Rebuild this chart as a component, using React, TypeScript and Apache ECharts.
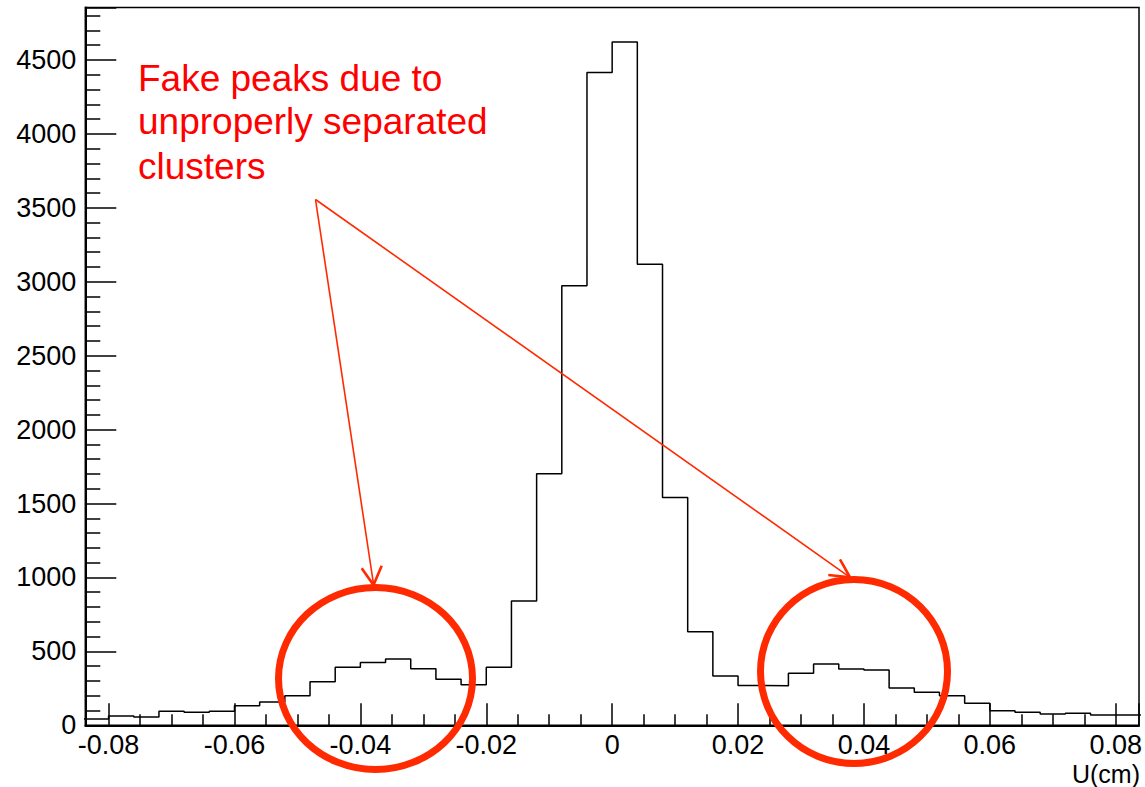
import React, { useEffect, useRef } from "react";
import * as echarts from "echarts";

// Histogram data: U (cm), bin width 0.004 starting at -0.084
const binLow = -0.084;
const binWidth = 0.004;
const counts = [
  43, 63, 56, 95, 88, 95, 133, 158, 200, 295, 392, 424, 448, 383, 311, 275,
  392, 841, 1702, 2973, 4416, 4621, 3118, 1540, 633, 333, 270, 268, 352, 415,
  381, 374, 252, 223, 200, 149, 99, 88, 76, 81, 70, 70,
];
const xMin = -0.0837;
const xMax = 0.0837;
const xInterval = 0.02;
const yMin = 0;
const yMax = 4855;
const yInterval = 500;
const xAxisTitle = "U(cm)";
const annotationLines = ["Fake peaks due to", "unproperly separated", "clusters"];

const FONT = "'Liberation Sans', Arial, Helvetica, sans-serif";
const RED_TEXT = "#ff0000";
const RED_MARK = "#ff2a00";

function buildHistPoints(): number[][] {
  const pts: number[][] = [];
  counts.forEach((c, i) => {
    const x0 = +(binLow + i * binWidth).toFixed(6);
    const x1 = +(binLow + (i + 1) * binWidth).toFixed(6);
    pts.push([x0, c], [x1, c]);
  });
  return pts;
}

function fmtX(v: number): string {
  if (Math.abs(v) < 1e-9) return "0";
  return v.toFixed(2);
}

function fmtY(v: number): string {
  return String(Math.round(v));
}

export default function App() {
  const ref = useRef<HTMLDivElement>(null);
  useEffect(() => {
    if (!ref.current) return;
    const chart = echarts.init(ref.current, null, { renderer: "svg" });
    const option: any = {
      animation: false,
      backgroundColor: "#ffffff",
      grid: {
        left: 85.3,
        right: 3.3,
        top: 7.5,
        bottom: 61.7,
        show: true,
        borderColor: "#000",
        borderWidth: 1.5,
        backgroundColor: "transparent",
      },
      xAxis: {
        type: "value",
        min: xMin,
        max: xMax,
        splitNumber: 8,
        minInterval: xInterval,
        maxInterval: xInterval,
        axisLine: { show: true, onZero: false, lineStyle: { color: "#000", width: 2 } },
        axisTick: { show: true, inside: true, length: 22, lineStyle: { color: "#000", width: 1.5 } },
        minorTick: { show: true, splitNumber: 4, length: 11, lineStyle: { color: "#000", width: 1.5 } },
        splitLine: { show: false },
        axisLabel: {
          show: true,
          margin: 7,
          color: "#000",
          fontSize: 27,
          lineHeight: 26,
          fontFamily: FONT,
          showMinLabel: false,
          showMaxLabel: false,
          formatter: (v: number) => fmtX(v),
        },
      },
      yAxis: {
        type: "value",
        min: yMin,
        max: yMax,
        interval: yInterval,
        axisLine: { show: true, onZero: false, lineStyle: { color: "#000", width: 2 } },
        axisTick: { show: true, inside: true, length: 31, lineStyle: { color: "#000", width: 1.5 } },
        minorTick: { show: true, splitNumber: 5, length: 15, lineStyle: { color: "#000", width: 1.5 } },
        splitLine: { show: false },
        axisLabel: {
          show: true,
          margin: 9,
          color: "#000",
          fontSize: 27,
          fontFamily: FONT,
          showMaxLabel: false,
          formatter: (v: number) => fmtY(v),
        },
      },
      series: [
        {
          type: "line",
          data: buildHistPoints(),
          showSymbol: false,
          symbol: "none",
          clip: true,
          silent: true,
          lineStyle: { color: "#000", width: 1.5 },
        },
      ],
      graphic: [
        {
          type: "text",
          z: 100,
          style: { text: annotationLines[0], x: 138, y: 78.5, verticalAlign: "middle", fill: RED_TEXT, fontSize: 37, fontFamily: FONT },
        },
        {
          type: "text",
          z: 100,
          style: { text: annotationLines[1], x: 138, y: 121, verticalAlign: "middle", fill: RED_TEXT, fontSize: 37, fontFamily: FONT },
        },
        {
          type: "text",
          z: 100,
          style: { text: annotationLines[2], x: 138, y: 166, verticalAlign: "middle", fill: RED_TEXT, fontSize: 37, fontFamily: FONT },
        },
        {
          type: "line",
          z: 100,
          shape: { x1: 315.5, y1: 199.5, x2: 373.5, y2: 584 },
          style: { stroke: RED_MARK, lineWidth: 1.6 },
        },
        {
          type: "line",
          z: 100,
          shape: { x1: 315.5, y1: 199.5, x2: 850, y2: 577.3 },
          style: { stroke: RED_MARK, lineWidth: 1.6 },
        },
        {
          type: "polyline",
          z: 100,
          shape: { points: [[361.7, 568.3], [373.5, 585], [381.7, 565.7]] },
          style: { stroke: RED_MARK, lineWidth: 2.6, fill: "none" },
        },
        {
          type: "polyline",
          z: 100,
          shape: { points: [[840, 559.3], [850, 577.3], [828.3, 575]] },
          style: { stroke: RED_MARK, lineWidth: 2.6, fill: "none" },
        },
        {
          type: "ellipse",
          z: 100,
          shape: { cx: 375.5, cy: 678.5, rx: 97, ry: 91 },
          style: { stroke: RED_MARK, lineWidth: 7, fill: "none" },
        },
        {
          type: "ellipse",
          z: 100,
          shape: { cx: 854, cy: 671.5, rx: 93.5, ry: 92 },
          style: { stroke: RED_MARK, lineWidth: 7, fill: "none" },
        },
        {
          type: "text",
          z: 100,
          style: { text: xAxisTitle, x: 1140, y: 774, align: "right", verticalAlign: "middle", fill: "#000", fontSize: 25, fontFamily: FONT },
        },
      ],
    };
    chart.setOption(option);
    return () => chart.dispose();
  }, []);
  return (
    <div
      ref={ref}
      style={{ position: "absolute", left: 0, top: 0, width: 1145, height: 787, background: "#fff" }}
    />
  );
}
